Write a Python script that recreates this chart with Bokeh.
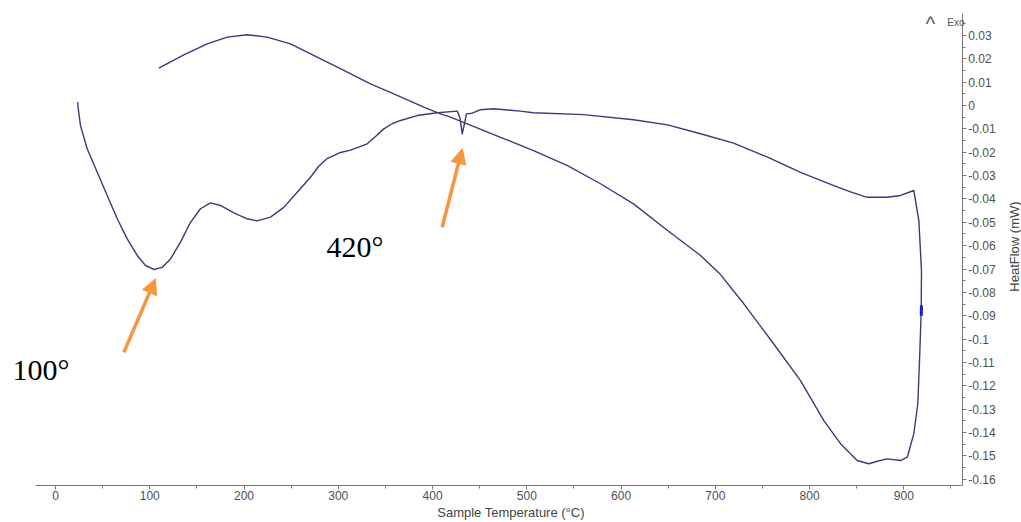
import math
from bokeh.plotting import figure
from bokeh.models import (Range1d, SingleIntervalTicker, CustomJSTickFormatter,
                          Label, Arrow, NormalHead, LinearAxis)
from bokeh.embed import file_html
from bokeh.resources import INLINE

# ---- data (heating run then cooling run) ----
temp_c = [23.7, 23.7, 26.5, 33.6, 44.2, 54.8, 65.5, 76.1, 86.7, 95.5, 104.3, 113.2,
          122.0, 132.6, 143.2, 153.8, 164.4, 175.0, 189.2, 203.4, 214.0, 228.1,
          242.2, 256.4, 270.5, 279.0, 288.2, 302.4, 313.0, 330.7, 339.5, 348.3,
          357.5, 366.0, 383.7, 405.0, 426.2, 428.9, 431.5, 433.9, 436.0, 442.1,
          450.9, 465.0, 493.0, 507.1, 560.2, 613.2, 649.3, 684.3, 719.3, 755.4,
          790.4, 825.7, 843.4, 861.1, 882.3, 896.5, 910.6, 915.9, 918.7, 918.4,
          916.9, 914.8, 910.6, 903.6, 896.5, 882.3, 871.7, 862.8, 850.5, 832.8,
          815.1, 790.4, 762.0, 730.2, 705.5, 684.3, 649.3, 613.2, 578.2, 543.2,
          507.1, 472.1, 419.1, 408.4, 390.7, 362.5, 334.2, 305.9, 277.6, 249.3,
          224.6, 203.4, 182.2, 160.9, 136.1, 109.6]
heatflow_mw = [0.0015, 0.0000, -0.0086, -0.0185, -0.0285, -0.0385, -0.0485, -0.0571,
               -0.0642, -0.0685, -0.0702, -0.0693, -0.0657, -0.0585, -0.0500, -0.0442,
               -0.0417, -0.0428, -0.0460, -0.0485, -0.0494, -0.0478, -0.0436, -0.0371,
               -0.0307, -0.0261, -0.0227, -0.0201, -0.0191, -0.0164, -0.0133, -0.0100,
               -0.0077, -0.0064, -0.0043, -0.0031, -0.0024, -0.0050, -0.0121, -0.0077,
               -0.0036, -0.0033, -0.0018, -0.0014, -0.0024, -0.0031, -0.0039, -0.0061,
               -0.0083, -0.0121, -0.0161, -0.0221, -0.0286, -0.0343, -0.0370, -0.0393,
               -0.0393, -0.0385, -0.0364, -0.0493, -0.0707, -0.0878, -0.1062, -0.1276,
               -0.1405, -0.1506, -0.1520, -0.1513, -0.1523, -0.1534, -0.1520, -0.1448,
               -0.1349, -0.1178, -0.1021, -0.0849, -0.0724, -0.0642, -0.0535, -0.0421,
               -0.0335, -0.0257, -0.0193, -0.0136, -0.0050, -0.0036, -0.0007, 0.0043,
               0.0093, 0.0150, 0.0207, 0.0264, 0.0293, 0.0303, 0.0293, 0.0264,
               0.0217, 0.0160]

# small dark-blue mark on the steep segment
mark_temp = [918.6, 918.5]
mark_flow = [-0.0855, -0.0900]

# annotations: text, position (temperature, heat flow)
ann_text = ["100°", "420°"]
ann_temp = [-45.6, 287.5]
ann_flow = [-0.1130, -0.0604]

# arrows: tail -> tip
arrow_tail_temp = [72.5, 410.2]
arrow_tail_flow = [-0.1057, -0.0521]
arrow_tip_temp = [106.1, 431.5]
arrow_tip_flow = [-0.0742, -0.0185]

x_start, x_end = -58.35, 1024.8
x_axis_bounds = (-21, 962)
y_axis_at = 962
y_start, y_end = -0.1627, 0.0394

x_label = "Sample Temperature (°C)"
y_label = "HeatFlow (mW)"

LINE = "#3a3a7c"
ORANGE = "#f7963f"
FONT = "Liberation Sans"
SERIF = "Liberation Serif"
AXIS = "#7a7a7a"

p = figure(width=1021, height=522, output_backend="svg", toolbar_location=None,
           x_range=Range1d(x_start, x_end), y_range=Range1d(y_start, y_end),
           min_border_left=0, min_border_top=13, min_border_right=0,
           min_border_bottom=37, y_axis_location=None)
p.outline_line_color = None
p.grid.visible = False
p.background_fill_color = "white"
p.border_fill_color = "white"

ya = LinearAxis(fixed_location=y_axis_at)
p.add_layout(ya, "right")

for ax in (p.xaxis[0], ya):
    ax.axis_line_color = AXIS
    ax.major_tick_line_color = AXIS
    ax.minor_tick_line_color = AXIS
    ax.major_tick_in = 0
    ax.minor_tick_in = 0
    ax.major_tick_out = 4
    ax.minor_tick_out = 3
    ax.major_label_text_font = FONT
    ax.major_label_text_font_size = "12px"
    ax.major_label_text_color = "#505050"
    ax.axis_label_text_font = FONT
    ax.axis_label_text_font_size = "13px"
    ax.axis_label_text_font_style = "normal"
    ax.axis_label_text_color = "#444444"

xa = p.xaxis[0]
xa.ticker = SingleIntervalTicker(interval=100, num_minor_ticks=2)
xa.bounds = x_axis_bounds
xa.major_label_standoff = 1
xa.axis_label = x_label
xa.axis_label_standoff = 2

ya.ticker = SingleIntervalTicker(interval=0.01, num_minor_ticks=2)
ya.major_label_standoff = 2
ya.formatter = CustomJSTickFormatter(code="return (Math.round(tick*1000)/1000).toString();")

p.line(temp_c, heatflow_mw, line_color=LINE, line_width=1.4, line_join="round")
p.line(mark_temp, mark_flow, line_color="#1a1ad0", line_width=3)

for t, x, y in zip(ann_text, ann_temp, ann_flow):
    p.add_layout(Label(x=x, y=y, text=t, text_font=SERIF, text_font_size="30px",
                       text_color="black", text_baseline="alphabetic", text_align="left"))

for xs, ys, xe, ye in zip(arrow_tail_temp, arrow_tail_flow, arrow_tip_temp, arrow_tip_flow):
    p.add_layout(Arrow(x_start=xs, y_start=ys, x_end=xe, y_end=ye,
                       line_color=ORANGE, line_width=3.5,
                       end=NormalHead(size=15, fill_color=ORANGE, line_color=ORANGE)))

# Exo marker at top right
p.add_layout(Label(x=928.3, y=0.0350, text="^", text_font=FONT, text_font_size="20px",
                   text_color="#555555", text_align="center", text_baseline="alphabetic"))
p.add_layout(Label(x=946.0, y=0.0355, text="Exo", text_font=FONT, text_font_size="10px",
                   text_color="#555555", text_align="left", text_baseline="middle"))

# y-axis title, reading bottom to top
p.add_layout(Label(x=1016.9, y=-0.0604, text=y_label, text_font=FONT, text_font_size="13px",
                   text_color="#444444", text_align="center", text_baseline="middle",
                   angle=math.pi / 2))

open("out.html", "w").write(file_html(p, INLINE))
